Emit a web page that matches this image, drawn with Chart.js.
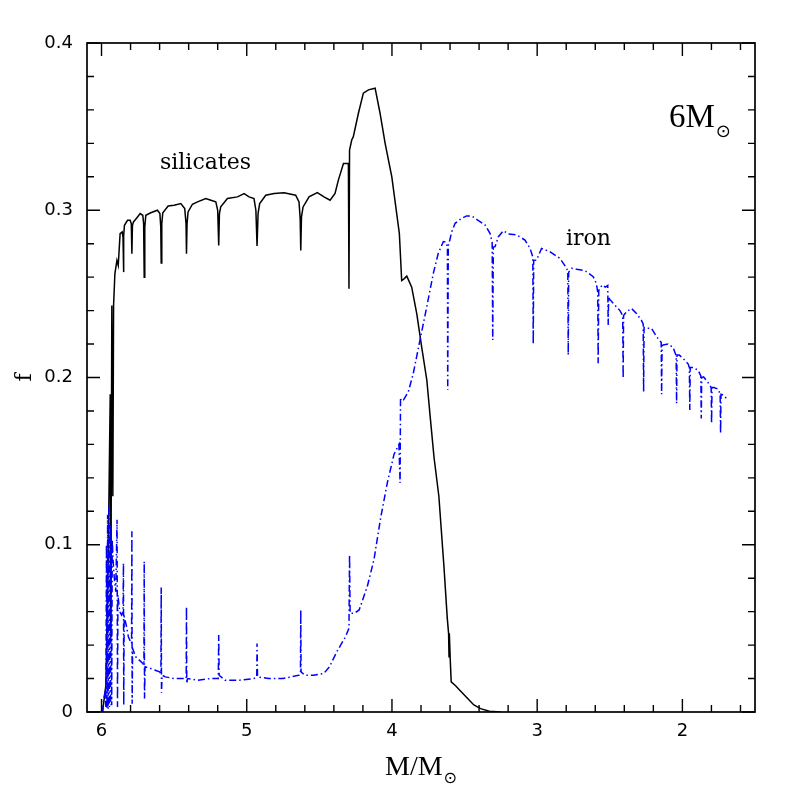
<!DOCTYPE html>
<html>
<head>
<meta charset="utf-8">
<script src="https://cdn.jsdelivr.net/npm/chart.js@4/dist/chart.umd.min.js"></script>
<style>
  html, body { margin: 0; padding: 0; background: #fff; }
  #c { display: block; }
</style>
</head>
<body>
<canvas id="c" width="797" height="797"></canvas>
<script>
// silicate fraction vs M/Msun
const silicatesX = [5.993,5.970,5.954,5.940,5.936,5.929,5.922,5.917,5.908,5.894,5.885,5.872,5.858,5.852,5.849,5.846,5.842,5.821,5.803,5.795,5.791,5.787,5.780,5.752,5.734,5.716,5.710,5.706,5.702,5.695,5.661,5.615,5.598,5.592,5.589,5.585,5.578,5.541,5.500,5.454,5.427,5.418,5.415,5.411,5.404,5.374,5.339,5.282,5.247,5.213,5.200,5.193,5.188,5.179,5.133,5.064,5.018,4.984,4.950,4.937,4.929,4.922,4.911,4.869,4.812,4.743,4.663,4.640,4.632,4.628,4.623,4.612,4.571,4.514,4.468,4.426,4.392,4.369,4.334,4.300,4.296,4.292,4.277,4.266,4.231,4.197,4.162,4.116,4.082,4.047,4.001,3.949,3.933,3.917,3.898,3.864,3.829,3.795,3.760,3.735,3.710,3.677,3.642,3.619,3.610,3.607,3.605,3.598,3.592,3.562,3.528,3.482,3.436,3.390,3.330,3.250];
const silicatesY = [0,0.016,0.093,0.190,0.045,0.243,0.129,0.243,0.262,0.270,0.267,0.286,0.287,0.284,0.263,0.285,0.291,0.294,0.294,0.292,0.274,0.291,0.293,0.296,0.298,0.297,0.292,0.260,0.290,0.297,0.2985,0.300,0.298,0.290,0.2685,0.292,0.2985,0.3025,0.303,0.304,0.301,0.292,0.274,0.292,0.299,0.3036,0.305,0.307,0.306,0.305,0.300,0.279,0.298,0.302,0.307,0.308,0.310,0.308,0.307,0.300,0.2786,0.298,0.304,0.309,0.310,0.3105,0.309,0.305,0.295,0.276,0.296,0.302,0.308,0.3105,0.308,0.306,0.310,0.318,0.328,0.328,0.253,0.336,0.342,0.344,0.358,0.370,0.372,0.373,0.358,0.340,0.320,0.286,0.258,0.259,0.2606,0.254,0.238,0.218,0.1985,0.175,0.152,0.129,0.087,0.056,0.047,0.033,0.047,0.030,0.018,0.0157,0.0126,0.0084,0.0042,0.002,0.0005,0];

// iron fraction vs M/Msun
const ironX = [5.993,5.985,5.975,5.970,5.966,5.962,5.958,5.954,5.950,5.946,5.942,5.938,5.934,5.930,5.926,5.920,5.912,5.902,5.893,5.890,5.887,5.875,5.862,5.852,5.849,5.847,5.844,5.830,5.815,5.800,5.793,5.791,5.789,5.786,5.765,5.740,5.715,5.708,5.706,5.704,5.700,5.661,5.630,5.600,5.591,5.589,5.587,5.583,5.560,5.500,5.440,5.417,5.415,5.413,5.408,5.340,5.250,5.196,5.193,5.190,5.150,5.050,4.950,4.931,4.929,4.926,4.850,4.750,4.640,4.630,4.628,4.626,4.600,4.540,4.470,4.430,4.380,4.320,4.296,4.292,4.288,4.260,4.226,4.170,4.124,4.078,4.032,3.986,3.952,3.944,3.941,3.937,3.921,3.887,3.853,3.807,3.760,3.715,3.681,3.646,3.628,3.618,3.616,3.612,3.605,3.588,3.565,3.520,3.486,3.451,3.417,3.359,3.325,3.310,3.306,3.302,3.290,3.267,3.233,3.198,3.141,3.084,3.049,3.030,3.027,3.024,3.004,2.970,2.913,2.843,2.797,2.789,2.786,2.783,2.763,2.728,2.671,2.614,2.592,2.583,2.580,2.576,2.553,2.530,2.514,2.511,2.508,2.500,2.465,2.430,2.411,2.408,2.405,2.385,2.351,2.316,2.281,2.270,2.267,2.264,2.247,2.213,2.178,2.146,2.143,2.140,2.133,2.099,2.064,2.043,2.040,2.037,2.022,1.995,1.960,1.952,1.949,1.946,1.926,1.892,1.873,1.870,1.867,1.854,1.824,1.802,1.799,1.796,1.783,1.753,1.740,1.737,1.734,1.719,1.685];
const ironY = [0,0.008,0.012,0.003,0.100,0.002,0.118,0.002,0.124,0.003,0.112,0.004,0.110,0.004,0.103,0.090,0.080,0.072,0.115,0.003,0.070,0.060,0.058,0.060,0.089,0.004,0.057,0.052,0.045,0.042,0.041,0.108,0.005,0.038,0.033,0.031,0.029,0.028,0.090,0.008,0.027,0.026,0.025,0.024,0.023,0.0745,0.0115,0.022,0.021,0.020,0.020,0.020,0.063,0.017,0.020,0.019,0.020,0.020,0.046,0.022,0.019,0.019,0.020,0.021,0.041,0.021,0.020,0.020,0.022,0.024,0.061,0.024,0.022,0.022,0.023,0.027,0.036,0.045,0.050,0.094,0.059,0.059,0.061,0.075,0.091,0.116,0.137,0.154,0.160,0.137,0.188,0.186,0.1865,0.1915,0.2025,0.2224,0.2424,0.2623,0.2743,0.2813,0.281,0.278,0.1925,0.279,0.281,0.2872,0.2922,0.2952,0.2966,0.2966,0.2946,0.2912,0.2862,0.281,0.2224,0.278,0.2782,0.2842,0.2878,0.2858,0.2852,0.2822,0.2772,0.272,0.220,0.270,0.2702,0.2772,0.2752,0.2712,0.2653,0.263,0.2134,0.263,0.2653,0.2647,0.2639,0.2603,0.256,0.251,0.2085,0.252,0.2553,0.254,0.255,0.2314,0.248,0.2467,0.2432,0.240,0.237,0.1995,0.237,0.2393,0.2413,0.2383,0.234,0.232,0.1915,0.230,0.2294,0.2294,0.2244,0.221,0.190,0.219,0.2194,0.220,0.218,0.213,0.1845,0.2134,0.2134,0.2114,0.208,0.206,0.1805,0.206,0.2060,0.2044,0.201,0.1755,0.200,0.2004,0.197,0.194,0.1725,0.194,0.1940,0.193,0.190,0.1665,0.190,0.1895,0.1865];

const xTickValues = [6, 5, 4, 3, 2];
const yTickValues = [0, 0.1, 0.2, 0.3, 0.4];

const toPoints = (xs, ys) => xs.map((x, i) => ({ x: x, y: ys[i] }));

// frame with inward ticks on all four sides, plus text labels
const framePlugin = {
  id: 'frame',
  afterDraw(chart) {
    const ctx = chart.ctx;
    const a = chart.chartArea;
    const xs = chart.scales.x, ys = chart.scales.y;
    ctx.save();
    ctx.strokeStyle = '#000';
    ctx.lineWidth = 1.7;
    ctx.strokeRect(a.left, a.top, a.right - a.left, a.bottom - a.top);

    ctx.lineWidth = 1.4;
    ctx.beginPath();
    for (let v = 1.6; v <= 6.1001; v += 0.2) {
      const major = Math.abs(v - Math.round(v)) < 1e-6;
      const len = major ? 13 : 7;
      const px = xs.getPixelForValue(v);
      ctx.moveTo(px, a.bottom); ctx.lineTo(px, a.bottom - len);
      ctx.moveTo(px, a.top); ctx.lineTo(px, a.top + len);
    }
    for (let i = 0; i <= 20; i++) {
      const v = i * 0.02;
      const len = i % 5 === 0 ? 13 : 7;
      const py = ys.getPixelForValue(v);
      ctx.moveTo(a.left, py); ctx.lineTo(a.left + len, py);
      ctx.moveTo(a.right, py); ctx.lineTo(a.right - len, py);
    }
    ctx.stroke();

    ctx.fillStyle = '#000';
    ctx.textBaseline = 'alphabetic';
    ctx.textAlign = 'left';

    ctx.font = '22px "DejaVu Serif"';
    ctx.fillText('silicates', 160, 169);
    ctx.fillText('iron', 566, 245);

    // 6 M_sun label
    ctx.font = '33px "Liberation Serif"';
    ctx.fillText('6M', 669, 127);
    const w6 = ctx.measureText('6M').width;
    ctx.font = '18px "DejaVu Sans"';
    ctx.fillText('\u2299', 669 + w6 + 1, 137);

    // x axis title M/M_sun
    ctx.font = '28px "Liberation Serif"';
    ctx.fillText('M/M', 385, 775);
    const wm = ctx.measureText('M/M').width;
    ctx.font = '16px "DejaVu Sans"';
    ctx.fillText('\u2299', 385 + wm + 1, 783);
    ctx.restore();
  }
};

new Chart(document.getElementById('c').getContext('2d'), {
  type: 'scatter',
  data: {
    datasets: [
      {
        label: 'iron',
        data: toPoints(ironX, ironY),
        showLine: true,
        borderColor: '#0000ff',
        borderWidth: 1.5,
        borderDash: [7, 3, 1.5, 3],
        pointRadius: 0,
        tension: 0,
        fill: false
      },
      {
        label: 'silicates',
        data: toPoints(silicatesX, silicatesY),
        showLine: true,
        borderColor: '#000000',
        borderWidth: 1.5,
        pointRadius: 0,
        tension: 0,
        fill: false
      }
    ]
  },
  options: {
    responsive: false,
    animation: false,
    layout: { padding: { top: 43, right: 42, left: 0, bottom: 0 } },
    plugins: {
      legend: { display: false },
      tooltip: { enabled: false }
    },
    scales: {
      x: {
        type: 'linear',
        reverse: true,
        min: 1.5,
        max: 6.1,
        grid: { display: false, drawTicks: false },
        border: { display: false },
        afterFit(s) { s.height = 85; },
        afterBuildTicks(s) { s.ticks = xTickValues.map(v => ({ value: v })); },
        ticks: {
          padding: 9,
          color: '#000',
          font: { family: 'DejaVu Sans', size: 18 },
          callback: v => String(v)
        }
      },
      y: {
        type: 'linear',
        min: 0,
        max: 0.4,
        grid: { display: false, drawTicks: false },
        border: { display: false },
        afterFit(s) { s.width = 87; },
        afterBuildTicks(s) { s.ticks = yTickValues.map(v => ({ value: v })); },
        title: {
          display: true,
          text: 'f',
          color: '#000',
          font: { family: 'DejaVu Serif', size: 22 },
          padding: { top: 12, bottom: 0 }
        },
        ticks: {
          padding: 14,
          color: '#000',
          font: { family: 'DejaVu Sans', size: 18 },
          callback: v => (v === 0 ? '0' : v.toFixed(1))
        }
      }
    }
  },
  plugins: [framePlugin]
});
</script>
</body>
</html>
